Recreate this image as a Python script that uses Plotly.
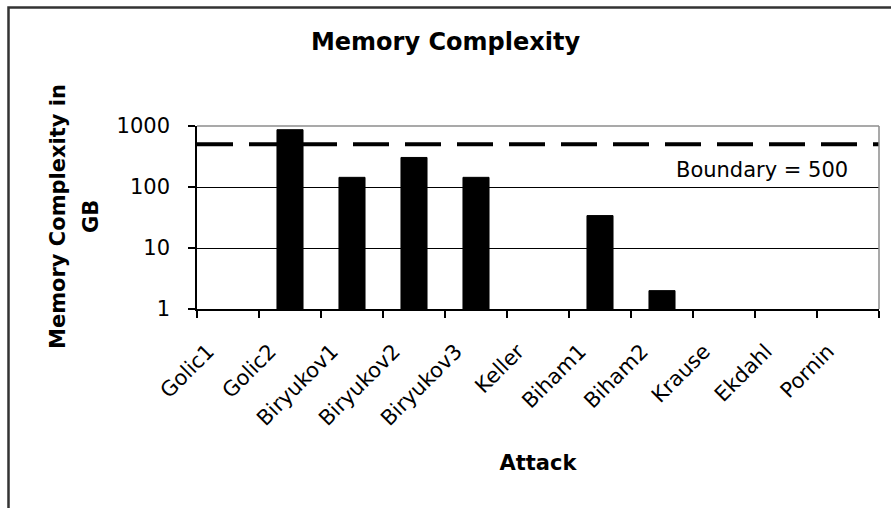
import plotly.graph_objects as go

# Attack names and memory needed (GB); None = no memory figure
attacks = ["Golic1", "Golic2", "Biryukov1", "Biryukov2", "Biryukov3", "Keller",
           "Biham1", "Biham2", "Krause", "Ekdahl", "Pornin"]
memory_gb = [None, 870, 144, 305, 144, None, 34, 2, None, None, None]
boundary_gb = 500
y_ticks = [1, 10, 100, 1000]
y_tick_labels = ["1", "10", "100", "1000"]

FONT = "DejaVu Sans"
W, H = 891, 508
ML, MR, MT, MB = 197, 12, 126, 199
plot_w = W - ML - MR
plot_h = H - MT - MB

fig = go.Figure()

fig.add_trace(go.Bar(
    x=attacks, y=memory_gb,
    marker=dict(color="black", line=dict(color="black", width=1)),
    showlegend=False, hoverinfo="x+y",
))

# Boundary line across the whole plot width (overlay x axis in 0..1)
fig.add_trace(go.Scatter(
    x=[0, 1], y=[boundary_gb, boundary_gb], xaxis="x2", yaxis="y",
    mode="lines", line=dict(color="black", width=4, dash="36px,16px"),
    showlegend=False, hoverinfo="skip",
))

def px_x(px):
    return (px - ML) / plot_w

def px_y(py):
    return (H - MB - py) / plot_h

fig.update_layout(
    width=W, height=H,
    margin=dict(l=ML, r=MR, t=MT, b=MB),
    paper_bgcolor="white", plot_bgcolor="white",
    font=dict(family=FONT, size=21, color="black"),
    bargap=0.58,
    title=dict(text="<b>Memory Complexity</b>", x=0.5, xanchor="center",
               y=1 - 42 / H, yanchor="middle",
               font=dict(family=FONT, size=24, color="black")),
    xaxis=dict(
        type="category", range=[-0.5, len(attacks) - 0.5],
        showline=True, linecolor="black", linewidth=1.5,
        ticks="outside", ticklen=7, tickcolor="black", tickwidth=1.5,
        tickson="boundaries", tickangle=-45, showgrid=False,
        ticklabelstandoff=20, ticklabelshift=-20,
        tickfont=dict(family=FONT, size=21, color="black"),
        title=dict(text="<b>Attack</b>", standoff=26,
                   font=dict(family=FONT, size=21, color="black")),
    ),
    xaxis2=dict(overlaying="x", range=[0, 1], visible=False),
    yaxis=dict(
        type="log", range=[0, 3],
        tickvals=y_ticks, ticktext=y_tick_labels,
        showline=True, linecolor="black", linewidth=1.5,
        ticks="outside", ticklen=7, tickcolor="black", tickwidth=1.5,
        showgrid=True, gridcolor="black", gridwidth=1,
        ticklabelstandoff=14,
        tickfont=dict(family=FONT, size=21, color="black"),
    ),
    annotations=[
        dict(text="Boundary = 500", xref="paper", yref="paper",
             x=px_x(850), y=px_y(170), xanchor="right", yanchor="middle",
             showarrow=False, font=dict(family=FONT, size=21, color="black")),
        dict(text="<b>Memory Complexity in</b>", xref="paper", yref="paper",
             x=px_x(58), y=px_y(217), xanchor="center", yanchor="middle",
             textangle=-90, showarrow=False,
             font=dict(family=FONT, size=21, color="black")),
        dict(text="<b>GB</b>", xref="paper", yref="paper",
             x=px_x(91), y=px_y(217), xanchor="center", yanchor="middle",
             textangle=-90, showarrow=False,
             font=dict(family=FONT, size=21, color="black")),
    ],
    shapes=[
        # outer chart frame
        dict(type="rect", xref="paper", yref="paper",
             x0=px_x(8.5), x1=px_x(W + 20), y0=px_y(H + 20), y1=px_y(7.5),
             line=dict(color="#333333", width=2.5), layer="below"),
        # grey plot-area border on the top and right
        dict(type="line", xref="paper", yref="paper",
             x0=0, x1=1, y0=1, y1=1, line=dict(color="#8c8c8c", width=1.5)),
        dict(type="line", xref="paper", yref="paper",
             x0=1, x1=1, y0=0, y1=1, line=dict(color="#8c8c8c", width=1.5)),
    ],
)

fig.write_html("out.html")
